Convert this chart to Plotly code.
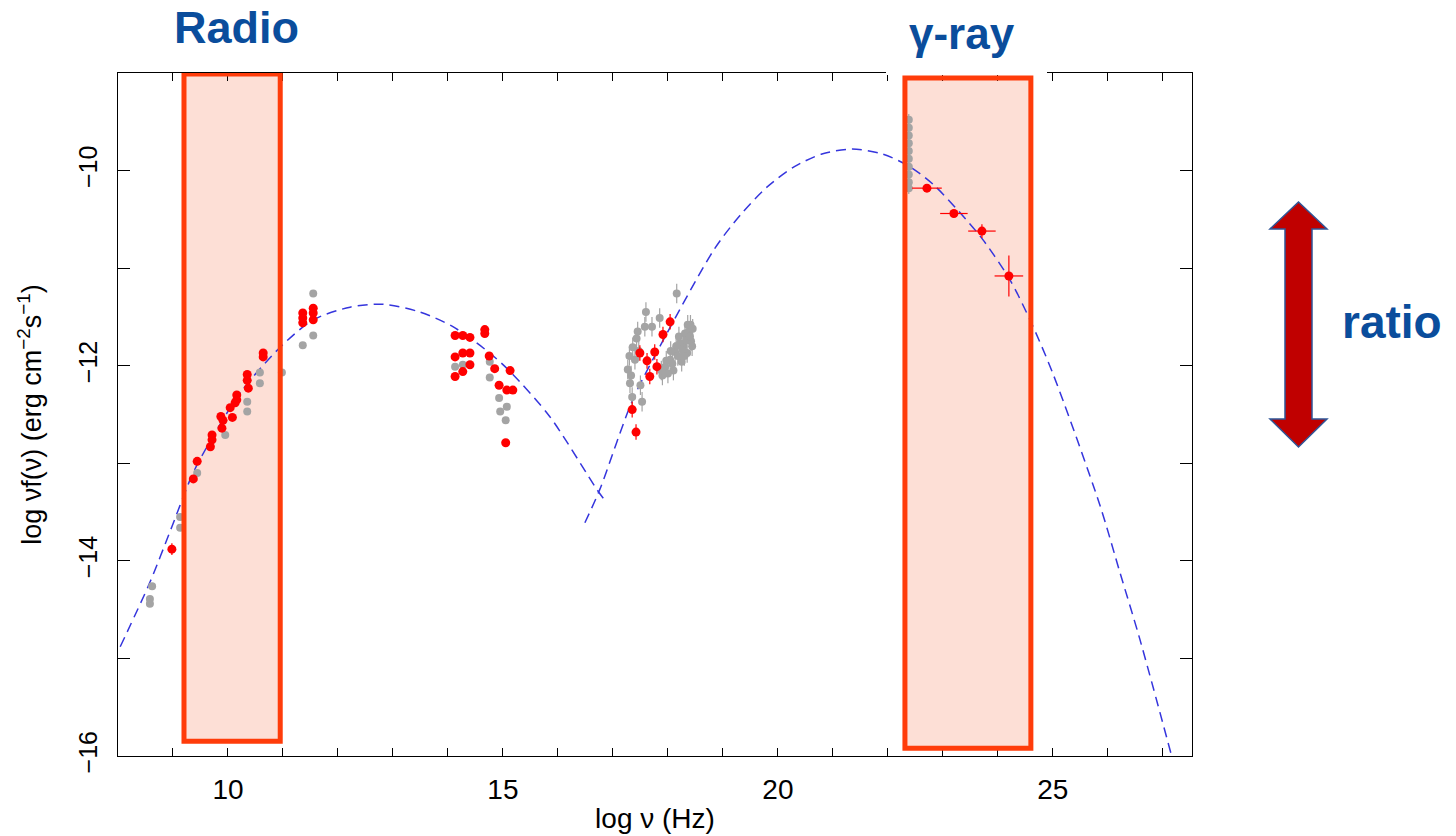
import plotly.graph_objects as go

# ---- Observed SED points: log nu [Hz], log nuF_nu [erg cm^-2 s^-1] ----
# Simultaneous campaign (red)
red_logv = [8.98, 9.37, 9.44, 9.71, 9.71, 9.68, 9.89, 9.87, 9.91, 10.08,
            10.04, 10.16, 10.16, 10.13, 10.35, 10.35, 10.37, 10.64, 10.64,
            11.36, 11.36, 11.36, 11.55, 11.55, 11.55,
            14.13, 14.27, 14.40, 14.67, 14.67, 14.13, 14.27, 14.40, 14.13,
            14.27, 14.40, 14.75, 14.85, 15.13, 14.93, 15.07, 15.18, 15.05,
            18.04, 17.91, 17.49, 17.76, 17.62, 17.80, 17.67, 17.35, 17.42,
            22.71, 23.20, 23.71, 24.20]
red_logf = [-13.88, -13.16, -12.98, -12.71, -12.76, -12.83, -12.64, -12.52, -12.56, -12.53,
            -12.43, -12.30, -12.35, -12.38, -12.09, -12.15, -12.23, -11.87, -11.91,
            -11.46, -11.51, -11.56, -11.41, -11.46, -11.53,
            -11.69, -11.69, -11.71, -11.63, -11.67, -11.91, -11.87, -11.87, -12.11,
            -12.06, -11.99, -11.90, -12.03, -12.05, -12.20, -12.25, -12.25, -12.79,
            -11.55, -11.68, -11.87, -11.86, -11.95, -12.01, -12.11, -12.45, -12.68,
            -10.18, -10.44, -10.62, -11.08]
red_dlogv = [0.04] + [0.0] * 24 + [0.0] * 18 + [0.06] * 9 + [0.27, 0.25, 0.25, 0.26]
red_dlogf = [0.06] + [0.02] * 24 + [0.02] * 18 + [0.08] * 9 + [0.04, 0.04, 0.07, 0.21]

# Archival data (grey)
grey_logv = [8.62, 8.58, 8.58, 9.13, 9.13, 9.44, 9.95, 10.35, 10.35, 10.58,
             10.58, 10.98, 11.36, 11.55, 11.55,
             14.13, 14.27, 14.76, 14.76, 14.93, 14.95, 15.07, 15.05,
             18.16, 17.58, 17.71, 17.85, 17.36, 17.43, 17.27, 17.31, 17.35,
             17.53, 17.40, 17.95, 18.04, 18.13, 18.22, 18.31, 18.36, 18.35,
             18.25, 18.10, 18.20, 18.28, 18.38, 17.90, 18.42, 18.45, 17.60,
             18.00, 18.08, 18.18, 18.27, 18.33, 18.40, 18.44, 18.15, 18.05,
             17.97, 17.88, 18.30, 18.41, 17.30, 17.45, 17.50, 17.33, 17.47,
             22.38, 22.38, 22.38, 22.38, 22.38, 22.38, 22.38, 22.38, 22.38, 22.38]
grey_logf = [-14.26, -14.39, -14.44, -13.55, -13.66, -13.10, -12.71, -12.37, -12.47, -12.07,
             -12.18, -12.07, -11.79, -11.69, -11.26,
             -12.01, -11.99, -11.96, -12.12, -12.33, -12.47, -12.42, -12.56,
             -11.26, -11.60, -11.60, -11.51, -11.81, -11.72, -12.04, -12.18, -12.32,
             -12.37, -11.94, -12.01, -11.94, -11.86, -11.77, -11.67, -11.58, -11.87,
             -11.96, -12.05, -11.70, -11.80, -11.65, -12.10, -11.75, -11.62, -11.45,
             -12.08, -11.98, -11.90, -11.84, -11.74, -11.70, -11.80, -11.80, -11.85,
             -11.95, -12.05, -11.90, -11.58, -11.90, -11.65, -12.20, -12.10, -11.85,
             -9.48, -9.56, -9.64, -9.72, -9.80, -9.88, -9.96, -10.04, -10.12, -10.18]
grey_dlogf = [0.02] * 23 + [0.1] * 45 + [0.06] * 10

# ---- Model curves (synchrotron + inverse Compton) ----
sync_logv = [8.04, 8.58, 8.98, 9.31, 9.49, 10.22, 10.95, 11.55, 12.22, 12.82,
             13.49, 14.09, 14.76, 15.13, 15.85, 16.71, 16.84]
sync_logf = [-14.88, -14.22, -13.65, -13.17, -12.96, -12.28, -11.81, -11.53, -11.40, -11.37,
             -11.45, -11.60, -11.87, -12.06, -12.52, -13.27, -13.37]
ic_logv = [16.49, 16.76, 17.36, 17.98, 18.85, 19.31, 19.80, 20.30, 20.80, 21.35,
           21.90, 22.40, 22.82, 23.31, 23.73, 24.22, 24.60, 25.00, 25.85, 26.22, 26.58, 27.16]
ic_logf = [-13.61, -13.27, -12.35, -11.67, -10.80, -10.46, -10.17, -9.96, -9.83, -9.78,
           -9.83, -9.96, -10.14, -10.43, -10.71, -11.12, -11.55, -12.08, -13.42, -14.12, -14.80, -16.00]

# ---- Highlighted bands ----
radio_band = [9.2, 10.95]
gamma_band = [22.31, 24.6]

# ---- Axis ticks ----
x_ticks = [10, 15, 20, 25]
x_labels = ["10", "15", "20", "25"]
y_ticks = [-16, -14, -12, -10]
y_labels = ["−16", "−14", "−12", "−10"]

W, H = 1456, 836
ML, MR, MT, MB = 118, 264, 73, 80
PW, PH = W - ML - MR, H - MT - MB


def px(xp):
    return (xp - ML) / PW


def py(yp):
    return (H - MB - yp) / PH


FONT = "Liberation Sans, Arial, sans-serif"
BAND_LINE = "#FF3C0A"
BAND_FILL = "#FDDFD6"
TXT_BLUE = "#0A4D9C"

fig = go.Figure()

for xs, ys in [(sync_logv, sync_logf), (ic_logv, ic_logf)]:
    fig.add_trace(go.Scatter(
        x=xs, y=ys, mode="lines", line_shape="spline",
        line=dict(color="#3535DD", width=1.5, dash="10px,6px", smoothing=0.8),
        hoverinfo="skip", showlegend=False))

fig.add_trace(go.Scatter(
    x=grey_logv, y=grey_logf, mode="markers",
    marker=dict(color="#A4A4A4", size=8, line=dict(width=0)),
    error_y=dict(type="data", array=grey_dlogf, color="#A4A4A4", thickness=1.2, width=0),
    showlegend=False))

fig.add_trace(go.Scatter(
    x=red_logv, y=red_logf, mode="markers",
    marker=dict(color="#FF0000", size=9, line=dict(width=0)),
    error_x=dict(type="data", array=red_dlogv, color="#FF0000", thickness=1.2, width=0),
    error_y=dict(type="data", array=red_dlogf, color="#FF0000", thickness=1.2, width=0),
    showlegend=False))

shapes = []
# band fills under the data
for (b0, b1), ybot, ytop in [(radio_band, -15.85, -9.01), (gamma_band, -15.92, -9.05)]:
    shapes.append(dict(type="rect", xref="x", yref="y", x0=b0, x1=b1, y0=ybot, y1=ytop,
                       fillcolor=BAND_FILL, line=dict(width=0), layer="below"))
# white patch behind the gamma-ray heading
shapes.append(dict(type="rect", xref="paper", yref="paper",
                   x0=px(886), x1=px(1047), y0=py(75), y1=py(40),
                   fillcolor="white", line=dict(width=0), layer="above"))
# band outlines
for (b0, b1), ybot, ytop in [(radio_band, -15.85, -9.01), (gamma_band, -15.92, -9.05)]:
    shapes.append(dict(type="rect", xref="x", yref="y", x0=b0, x1=b1, y0=ybot, y1=ytop,
                       fillcolor="rgba(0,0,0,0)", line=dict(color=BAND_LINE, width=5),
                       layer="above"))

# double-headed arrow
cx, tip_t, tip_b, base_t, base_b = 1298.5, 202, 447, 229, 419
hw, sw = 28.5, 13.5
pts = [(cx, tip_t), (cx + hw, base_t), (cx + sw, base_t), (cx + sw, base_b),
       (cx + hw, base_b), (cx, tip_b), (cx - hw, base_b), (cx - sw, base_b),
       (cx - sw, base_t), (cx - hw, base_t)]
path = "M " + " L ".join(f"{px(a):.5f},{py(b):.5f}" for a, b in pts) + " Z"
shapes.append(dict(type="path", xref="paper", yref="paper", path=path,
                   fillcolor="#C00000", line=dict(color="#2F5597", width=1.5),
                   layer="above"))

annotations = [
    dict(text="<b>Radio</b>", x=px(236), y=py(28), xref="paper", yref="paper",
         showarrow=False, font=dict(family=FONT, size=45, color=TXT_BLUE),
         xanchor="center", yanchor="middle"),
    dict(text="<b>γ-ray</b>", x=px(962), y=py(34), xref="paper", yref="paper",
         showarrow=False, font=dict(family=FONT, size=44, color=TXT_BLUE),
         xanchor="center", yanchor="middle"),
    dict(text="<b>ratio</b>", x=px(1392), y=py(322), xref="paper", yref="paper",
         showarrow=False, font=dict(family=FONT, size=46, color=TXT_BLUE),
         xanchor="center", yanchor="middle"),
]

fig.update_layout(
    width=W, height=H,
    margin=dict(l=ML, r=MR, t=MT, b=MB, autoexpand=False),
    paper_bgcolor="white", plot_bgcolor="white",
    shapes=shapes, annotations=annotations,
    font=dict(family=FONT, color="black"),
    showlegend=False,
)

fig.update_xaxes(
    range=[8, 27.53], showgrid=False, zeroline=False,
    showline=True, linecolor="black", linewidth=1.2, mirror="ticks",
    ticks="inside", ticklen=8, tickwidth=1.2, tickcolor="black",
    tickvals=x_ticks, ticktext=x_labels, ticklabelstandoff=8,
    minor=dict(ticks="inside", ticklen=8, tickwidth=1.2, tickcolor="black",
               tick0=0, dtick=1, showgrid=False),
    tickfont=dict(family=FONT, size=28, color="black"),
    title=dict(text="log ν (Hz)", font=dict(family=FONT, size=28, color="black"), standoff=4),
    automargin=False,
)
fig.update_yaxes(
    range=[-16, -9], showgrid=False, zeroline=False,
    showline=True, linecolor="black", linewidth=1.2, mirror="ticks",
    ticks="inside", ticklen=12, tickwidth=1.2, tickcolor="black",
    tickvals=y_ticks, ticktext=y_labels, tickangle=-90, ticklabelstandoff=10,
    minor=dict(ticks="inside", ticklen=12, tickwidth=1.2, tickcolor="black",
               tick0=0, dtick=1, showgrid=False),
    tickfont=dict(family=FONT, size=25, color="black"),
    title=dict(text="log νf(ν) (erg cm<sup>−2</sup>s<sup>−1</sup>)",
               font=dict(family=FONT, size=27, color="black"), standoff=24),
    automargin=False,
)

fig.write_html("out.html")
